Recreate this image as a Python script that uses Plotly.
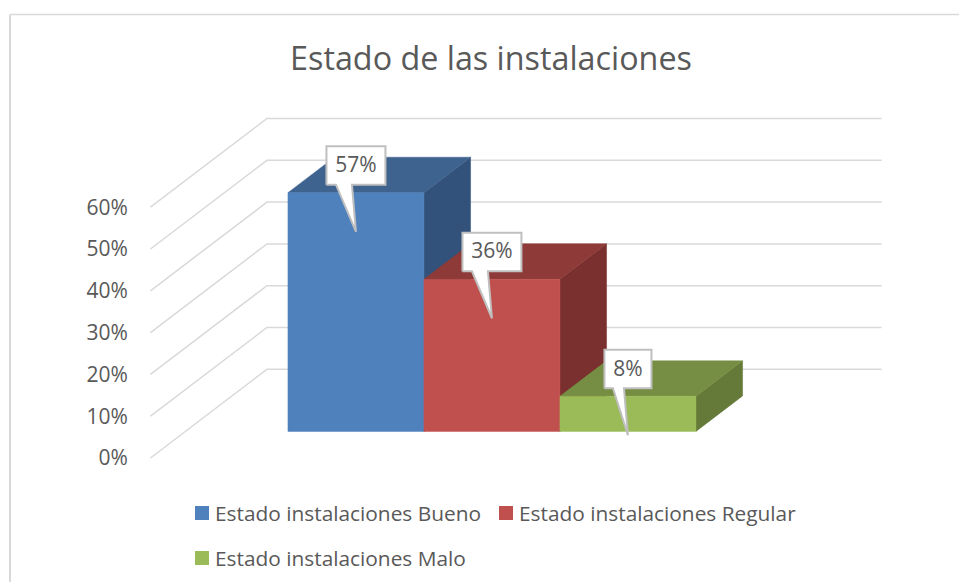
import plotly.graph_objects as go

# ---- data ----
TITLE = "Estado de las instalaciones"
SERIES = ["Estado instalaciones Bueno", "Estado instalaciones Regular", "Estado instalaciones Malo"]
VALUES = [57.1, 36.4, 8.4]
FRONT = ["#4f81bd", "#c0504d", "#9bbb59"]
TOP = ["#3e638f", "#8e3a38", "#768e43"]
SIDE = ["#33527b", "#7a302e", "#657a38"]
TICKS = [0, 10, 20, 30, 40, 50, 60]

# ---- page geometry ----
W, H = 959, 582
L, R, T, B = 140, 890, 100, 470
PX_PER_U, PX_PER_PCT = 136.0, 4.18
X0_PX, Y0_PX = 253.0, 458.0          # pixel of u=0 and value=0
DEPTH_U, DEPTH_V = 116.5 / PX_PER_U, 88.7 / PX_PER_PCT
WALL_LEFT, WALL_RIGHT = -0.754, 3.765
BAR_D0, BAR_D1 = 0.3, 0.7
INK, GRID, EDGE = "#595959", "#d9d9d9", "#bfbfbf"
FONT = "Open Sans"

def proj(u, v, d):
    return u + d * DEPTH_U, v + d * DEPTH_V

def poly(pts):
    xy = [proj(*p) for p in pts]
    return [a for a, _ in xy], [b for _, b in xy]

def px(x):
    return (x - L) / (R - L)

def py(y):
    return (B - y) / (B - T)

fig = go.Figure()

# wall gridlines
gx, gy = [], []
for t in TICKS:
    xs, ys = poly([(WALL_LEFT, t, 0), (WALL_LEFT, t, 1), (WALL_RIGHT, t, 1)])
    gx += xs + [None]
    gy += ys + [None]
fig.add_trace(go.Scatter(x=gx, y=gy, mode="lines", line=dict(color=GRID, width=1.5), showlegend=False, hoverinfo="skip"))

def face(pts, color):
    xs, ys = poly(pts + pts[:1])
    fig.add_trace(go.Scatter(x=xs, y=ys, mode="lines", fill="toself", fillcolor=color,
                             line=dict(color=color, width=0.5), showlegend=False, hoverinfo="skip"))

for i, (val, name) in enumerate(zip(VALUES, SERIES)):
    a, b = i, i + 1
    face([(b, 0, BAR_D0), (b, 0, BAR_D1), (b, val, BAR_D1), (b, val, BAR_D0)], SIDE[i])
    face([(a, val, BAR_D0), (b, val, BAR_D0), (b, val, BAR_D1), (a, val, BAR_D1)], TOP[i])
    face([(a, 0, BAR_D0), (b, 0, BAR_D0), (b, val, BAR_D0), (a, val, BAR_D0)], FRONT[i])

# callouts
for i, val in enumerate(VALUES):
    label = f"{val:.0f}%"
    tip_x, tip_y = proj(i + 0.5, val, BAR_D0)
    tip_y -= 39 / PX_PER_PCT
    half = 29.5 if len(label) == 3 else 23.5
    base_l = -20 if len(label) == 3 else -15
    off = [(-half, 47), (base_l, 47), (0, 0), (-4, 47), (half, 47), (half, 85.5), (-half, 85.5), (-half, 47)]
    fig.add_trace(go.Scatter(
        x=[tip_x + dx / PX_PER_U for dx, _ in off],
        y=[tip_y + dy / PX_PER_PCT for _, dy in off],
        mode="lines", fill="toself", fillcolor="white", line=dict(color=EDGE, width=2),
        showlegend=False, hoverinfo="skip"))
    fig.add_trace(go.Scatter(
        x=[tip_x], y=[tip_y + 65 / PX_PER_PCT], mode="text", text=[label], textposition="middle center",
        textfont=dict(family=FONT, size=21, color=INK), showlegend=False, hoverinfo="skip"))

# frame and legend
shapes = [
    dict(type="line", xref="paper", yref="paper", x0=px(10), x1=px(959), y0=py(14.5), y1=py(14.5), line=dict(color=GRID, width=1.5)),
    dict(type="line", xref="paper", yref="paper", x0=px(10), x1=px(10), y0=py(14.5), y1=py(582), line=dict(color=GRID, width=2)),
]
annotations = []
LEG = [(195, 513), (499, 513), (195, 558)]
for (x, y), name, col in zip(LEG, SERIES, FRONT):
    shapes.append(dict(type="rect", xref="paper", yref="paper", x0=px(x), x1=px(x + 14), y0=py(y - 7), y1=py(y + 7),
                       line=dict(width=0), fillcolor=col))
    annotations.append(dict(xref="paper", yref="paper", x=px(x + 18), y=py(y), xanchor="left", yanchor="middle",
                            text=name, showarrow=False, font=dict(family=FONT, size=20.85, color=INK)))

fig.update_layout(
    width=W, height=H, autosize=False,
    margin=dict(l=L, r=W - R, t=T, b=H - B),
    paper_bgcolor="white", plot_bgcolor="white", showlegend=False,
    title=dict(text=TITLE, x=491 / W, xanchor="center", y=1 - 59 / H, yanchor="middle",
               font=dict(family=FONT, size=32.3, color=INK)),
    xaxis=dict(range=[(L - X0_PX) / PX_PER_U, (R - X0_PX) / PX_PER_U], visible=False, fixedrange=True),
    yaxis=dict(range=[(Y0_PX - B) / PX_PER_PCT, (Y0_PX - T) / PX_PER_PCT], tickvals=TICKS,
               ticktext=[f"{t}%" for t in TICKS], showgrid=False, zeroline=False, showline=False,
               ticks="outside", ticklen=7, tickcolor="rgba(0,0,0,0)", fixedrange=True,
               tickfont=dict(family=FONT, size=21, color=INK)),
    shapes=shapes, annotations=annotations,
)
fig.write_html("out.html", config={"displayModeBar": False},
               post_script="document.body.style.margin='0';document.body.style.overflow='hidden';")
